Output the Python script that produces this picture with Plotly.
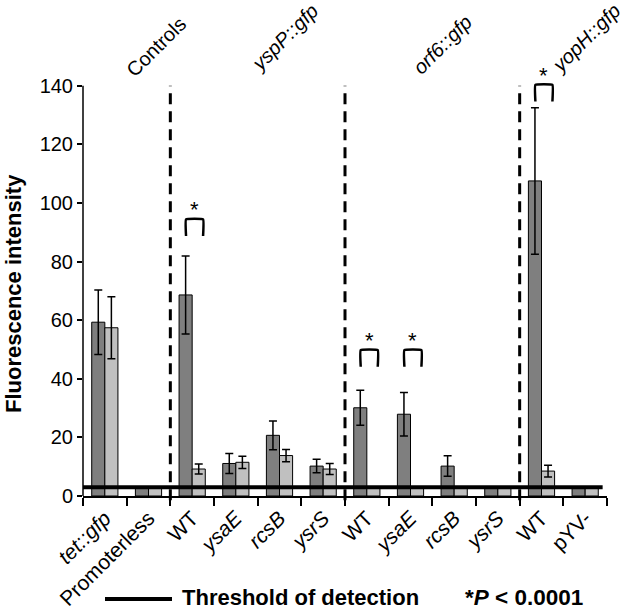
import plotly.graph_objects as go

# ---------------- data ----------------
strains = ["<i>tet::gfp</i>", "Promoterless", "WT", "<i>ysaE</i>", "<i>rcsB</i>", "<i>ysrS</i>",
           "WT", "<i>ysaE</i>", "<i>rcsB</i>", "<i>ysrS</i>", "WT", "pYV-"]
dark_vals = [59.3, 3, 68.6, 11.1, 20.7, 10.2, 30.1, 27.9, 10.2, 3, 107.5, 3]
dark_err = [11.0, None, 13.3, 3.4, 4.9, 2.3, 6.0, 7.4, 3.5, None, 25.0, None]
light_vals = [57.4, 3, 9.2, 11.5, 13.8, 9.2, 3, 3, 3, 3, 8.5, 3]
light_err = [10.6, None, 1.7, 2.1, 2.1, 1.9, None, None, None, None, 2.0, None]
THRESHOLD = 3
groups = ["Controls", "<i>yspP::gfp</i>", "<i>orf6::gfp</i>", "<i>yopH::gfp</i>"]
group_bounds = [1.5, 5.5, 9.5]
sig_cats = [2, 6, 7, 10]
sig_tops = [94.4, 49.8, 49.8, 140.3]
y_ticks = [0, 20, 40, 60, 80, 100, 120, 140]

YMAX = 145
N = len(strains)
W, H = 628, 614
ML, MR, MT, MB = 83, 21, 71, 118
PW, PH = W - ML - MR, H - MT - MB

FONT = "Liberation Sans, Arial, sans-serif"
xs = list(range(N))

fig = go.Figure()
fig.add_trace(go.Bar(
    x=xs, y=dark_vals, marker=dict(color="#7f7f7f", line=dict(color="black", width=1)),
    error_y=dict(type="data", array=dark_err, color="black", thickness=1.5, width=4),
    showlegend=False))
fig.add_trace(go.Bar(
    x=xs, y=light_vals, marker=dict(color="#c0c0c0", line=dict(color="black", width=1)),
    error_y=dict(type="data", array=light_err, color="black", thickness=1.5, width=4),
    showlegend=False))

# significance brackets on an overlaying linear axis
for c, top in zip(sig_cats, sig_tops):
    fig.add_trace(go.Scatter(
        x=[c - 0.14, c - 0.14, c + 0.25, c + 0.25],
        y=[top - 5.7, top, top, top - 5.7],
        mode="lines", line=dict(color="black", width=2.5, shape="spline", smoothing=0.3),
        xaxis="x2", yaxis="y", showlegend=False, hoverinfo="skip", cliponaxis=False))

shapes = []
# threshold line
shapes.append(dict(type="line", xref="paper", yref="paper", x0=0, x1=(11.4 + 0.5) / N,
                   y0=THRESHOLD / YMAX, y1=THRESHOLD / YMAX, line=dict(color="black", width=4)))
# group separators
for b in group_bounds:
    xp = (b + 0.5) / N
    shapes.append(dict(type="line", xref="paper", yref="paper", x0=xp, x1=xp,
                       y0=-0.01, y1=140 / YMAX, line=dict(color="black", width=3, dash="11px,7px")))
# y axis line (0..140)
shapes.append(dict(type="line", xref="paper", yref="paper", x0=0, x1=0, y0=0, y1=140 / YMAX,
                   line=dict(color="black", width=1.5)))
# legend line
shapes.append(dict(type="line", xref="paper", yref="paper",
                   x0=(105 - ML) / PW, x1=(172 - ML) / PW,
                   y0=(MT + PH - 599) / PH, y1=(MT + PH - 599) / PH,
                   line=dict(color="black", width=4)))

def px2paper(px, py):
    return (px - ML) / PW, (MT + PH - py) / PH

annotations = []
for c, top in zip(sig_cats, sig_tops):
    annotations.append(dict(x=c + 0.055, y=top + 3.2, xref="x2", yref="y", text="*",
                            showarrow=False, font=dict(family=FONT, size=22, color="black"),
                            xanchor="center", yanchor="middle"))
group_pos = [(156, 47), (284, 38), (442, 45), (586, 38)]
for g, (px, py) in zip(groups, group_pos):
    x, y = px2paper(px, py)
    annotations.append(dict(x=x, y=y, xref="paper", yref="paper", text=g, textangle=-45,
                            showarrow=False, font=dict(family=FONT, size=20, color="black"),
                            xanchor="center", yanchor="middle"))
x, y = px2paper(13, 294)
annotations.append(dict(x=x, y=y, xref="paper", yref="paper", text="<b>Fluorescence intensity</b>",
                        textangle=-90, showarrow=False,
                        font=dict(family=FONT, size=22, color="black"),
                        xanchor="center", yanchor="middle"))
x, y = px2paper(180, 597)
annotations.append(dict(x=x, y=y, xref="paper", yref="paper", text="<b>Threshold of detection</b>",
                        showarrow=False, font=dict(family=FONT, size=22, color="black"),
                        xanchor="left", yanchor="middle"))
x, y = px2paper(585, 597)
annotations.append(dict(x=x, y=y, xref="paper", yref="paper", text="<b>*<i>P</i> &lt; 0.0001</b>",
                        showarrow=False, font=dict(family=FONT, size=22.5, color="black"),
                        xanchor="right", yanchor="middle"))

fig.update_layout(
    template="none",
    width=W, height=H, margin=dict(l=ML, r=MR, t=MT, b=MB, autoexpand=False),
    paper_bgcolor="white", plot_bgcolor="white",
    barmode="group", bargap=0.4, bargroupgap=0,
    font=dict(family=FONT, color="black"),
    xaxis=dict(type="category", tickmode="array", tickvals=xs, ticktext=strains,
               tickangle=-45, tickfont=dict(size=21, family=FONT, color="black"),
               showline=True, linecolor="black", linewidth=1.5,
               ticks="outside", ticklen=8, tickwidth=1.5, tickcolor="black",
               tickson="boundaries", showgrid=False, zeroline=False, automargin=False,
               range=[-0.5, N - 0.5]),
    xaxis2=dict(overlaying="x", range=[-0.5, N - 0.5], visible=False),
    yaxis=dict(range=[0, YMAX], tickmode="array", tickvals=y_ticks,
               tickfont=dict(size=20, family=FONT, color="black"),
               showline=False, ticks="outside", ticklen=5, tickwidth=1.5, tickcolor="black",
               showgrid=False, zeroline=False, automargin=False),
    shapes=shapes, annotations=annotations,
)

fig.write_html("out.html", config={"displayModeBar": False},
               post_script="document.body.style.margin='0';document.body.style.padding='0';")
